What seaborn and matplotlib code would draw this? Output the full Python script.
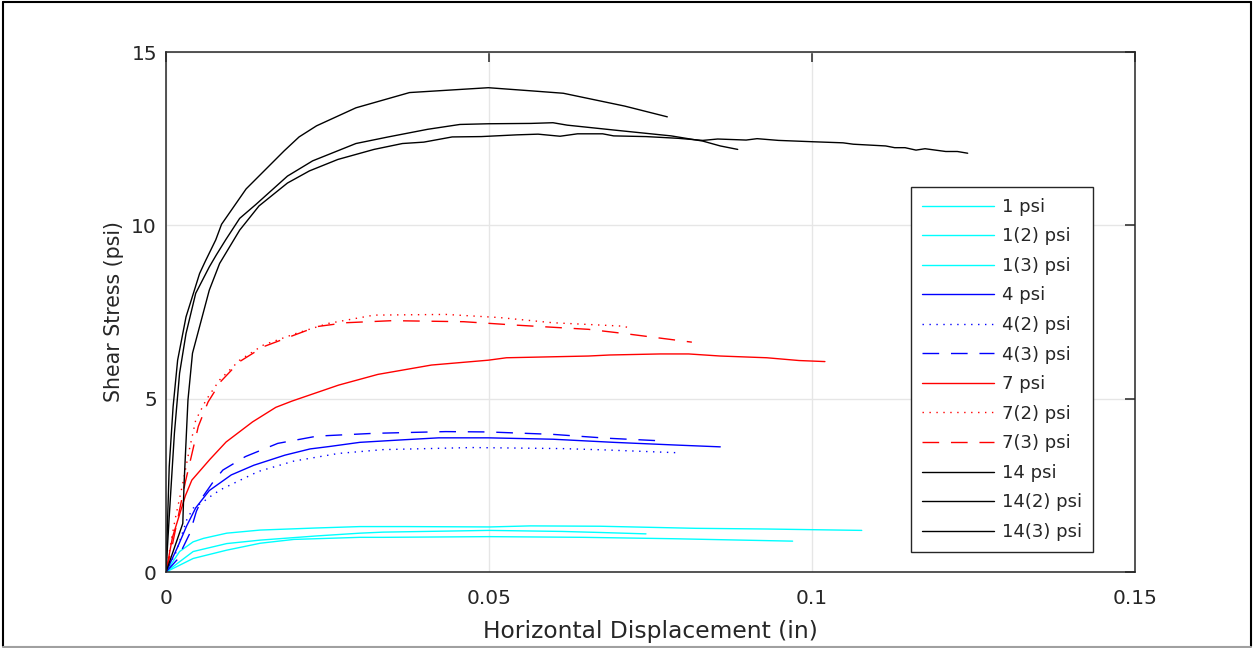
import matplotlib
matplotlib.use("Agg")
import matplotlib.pyplot as plt
from matplotlib.lines import Line2D
import numpy as np
import pandas as pd
import seaborn as sns

# ---------------- data ----------------
labels = ["1 psi", "1(2) psi", "1(3) psi", "4 psi", "4(2) psi", "4(3) psi",
          "7 psi", "7(2) psi", "7(3) psi", "14 psi", "14(2) psi", "14(3) psi"]

x_1 = [0, 0.0021, 0.0042, 0.0058, 0.0094, 0.0146, 0.0233, 0.03, 0.0371, 0.0502, 0.0564, 0.0672, 0.082, 0.093, 0.1077]
y_1 = [0, 0.59, 0.87, 0.97, 1.12, 1.21, 1.27, 1.31, 1.31, 1.3, 1.33, 1.32, 1.26, 1.24, 1.2]

x_1b = [0, 0.0042, 0.0094, 0.0146, 0.0233, 0.03, 0.0336, 0.05, 0.0613, 0.0672, 0.0743]
y_1b = [0, 0.59, 0.82, 0.92, 1.04, 1.12, 1.15, 1.2, 1.17, 1.14, 1.1]

x_1c = [0, 0.0042, 0.0094, 0.0146, 0.0198, 0.03, 0.0336, 0.05, 0.0647, 0.0785, 0.097]
y_1c = [0, 0.39, 0.63, 0.83, 0.94, 1.0, 1.0, 1.02, 1.0, 0.96, 0.89]

x_4 = [0, 0.0018, 0.0032, 0.0046, 0.0067, 0.0101, 0.0136, 0.0184, 0.0223, 0.0253, 0.03, 0.0364, 0.0422, 0.0499, 0.0599, 0.0693, 0.0792, 0.0858]
y_4 = [0, 0.72, 1.33, 1.85, 2.35, 2.8, 3.08, 3.37, 3.55, 3.62, 3.74, 3.81, 3.87, 3.87, 3.83, 3.74, 3.66, 3.61]

x_4b = [0, 0.0015, 0.0025, 0.0032, 0.0042, 0.0058, 0.0068, 0.0084, 0.0115, 0.0143, 0.0198, 0.0267, 0.0336, 0.0474, 0.0613, 0.0682, 0.0792]
y_4b = [0, 0.55, 1.1, 1.5, 1.84, 2.03, 2.17, 2.37, 2.65, 2.9, 3.2, 3.42, 3.53, 3.59, 3.56, 3.52, 3.44]

x_4c = [0, 0.0017, 0.0037, 0.0047, 0.0058, 0.0073, 0.0088, 0.0123, 0.0173, 0.0234, 0.0322, 0.0433, 0.0499, 0.0599, 0.0682, 0.0759]
y_4c = [0, 0.35, 1.12, 1.75, 2.2, 2.6, 2.94, 3.33, 3.71, 3.92, 4.0, 4.05, 4.04, 3.97, 3.86, 3.79]

x_7 = [0, 0.001, 0.002, 0.003, 0.004, 0.0068, 0.0093, 0.0134, 0.017, 0.0195, 0.0267, 0.0328, 0.0411, 0.0499, 0.0527, 0.0654, 0.0687, 0.0765, 0.0809, 0.0858, 0.093, 0.098, 0.102]
y_7 = [0, 1.0, 1.6, 2.2, 2.65, 3.25, 3.75, 4.33, 4.75, 4.93, 5.39, 5.7, 5.97, 6.11, 6.18, 6.23, 6.26, 6.29, 6.29, 6.23, 6.18, 6.1, 6.07]

x_7b = [0, 0.0008, 0.0015, 0.0026, 0.0036, 0.0046, 0.0062, 0.0083, 0.0114, 0.0151, 0.0201, 0.0251, 0.0322, 0.0433, 0.0516, 0.0599, 0.0709, 0.0718]
y_7b = [0, 0.9, 1.6, 2.56, 3.52, 4.38, 4.96, 5.54, 6.11, 6.55, 6.88, 7.17, 7.41, 7.43, 7.34, 7.19, 7.09, 7.03]

x_7c = [0, 0.001, 0.002, 0.003, 0.004, 0.005, 0.0065, 0.0085, 0.0114, 0.0151, 0.0201, 0.0234, 0.0278, 0.035, 0.0461, 0.0543, 0.0654, 0.0709, 0.0814]
y_7c = [0, 0.8, 1.7, 2.6, 3.4, 4.2, 4.9, 5.5, 6.07, 6.5, 6.85, 7.08, 7.19, 7.25, 7.22, 7.12, 7.0, 6.88, 6.63]

x_14 = [0, 0.0026, 0.0028, 0.0034, 0.0041, 0.0052, 0.0067, 0.0083, 0.0114, 0.0144, 0.0188, 0.0222, 0.0266, 0.0322, 0.0366, 0.0399, 0.0443, 0.0488, 0.0543, 0.0576, 0.061, 0.0637, 0.0676, 0.0693, 0.0743, 0.0793, 0.0831, 0.0854, 0.0898, 0.0915, 0.0948, 0.1003, 0.1048, 0.1064, 0.1114, 0.1128, 0.1144, 0.1161, 0.1175, 0.1207, 0.1225, 0.1241]
y_14 = [0, 1.4, 2.56, 4.96, 6.31, 7.08, 8.13, 8.9, 9.86, 10.56, 11.22, 11.57, 11.9, 12.19, 12.36, 12.4, 12.55, 12.56, 12.61, 12.63, 12.57, 12.64, 12.64, 12.58, 12.56, 12.51, 12.45, 12.49, 12.46, 12.5, 12.45, 12.41, 12.38, 12.34, 12.29, 12.24, 12.24, 12.17, 12.21, 12.13, 12.13, 12.08]

x_14b = [0, 0.0005, 0.0013, 0.0021, 0.0031, 0.0046, 0.0067, 0.0078, 0.0093, 0.0114, 0.0139, 0.0188, 0.0227, 0.0294, 0.0344, 0.0405, 0.0455, 0.0499, 0.0565, 0.0599, 0.0621, 0.0698, 0.0782, 0.0831, 0.0858, 0.0885]
y_14b = [0, 1.6, 4.0, 5.73, 6.88, 8.04, 8.8, 9.15, 9.6, 10.2, 10.6, 11.42, 11.86, 12.36, 12.55, 12.77, 12.91, 12.93, 12.94, 12.96, 12.89, 12.74, 12.58, 12.43, 12.29, 12.19]

x_14c = [0, 0.0005, 0.0011, 0.0018, 0.0031, 0.0052, 0.0061, 0.0077, 0.0086, 0.0124, 0.0183, 0.0206, 0.0233, 0.0294, 0.0377, 0.0499, 0.0565, 0.0615, 0.071, 0.0776]
y_14c = [0, 3.04, 4.77, 6.11, 7.36, 8.61, 8.97, 9.58, 10.03, 11.05, 12.15, 12.55, 12.87, 13.39, 13.83, 13.97, 13.88, 13.81, 13.44, 13.13]

xs = [x_1, x_1b, x_1c, x_4, x_4b, x_4c, x_7, x_7b, x_7c, x_14, x_14b, x_14c]
ys = [y_1, y_1b, y_1c, y_4, y_4b, y_4c, y_7, y_7b, y_7c, y_14, y_14b, y_14c]

colors = ["#00FFFF"] * 3 + ["#0000FF"] * 3 + ["#FF0000"] * 3 + ["#000000"] * 3
DOT = (0, (1, 4))
DASH = (0, (12, 8.5))
styles = ["-", "-", "-", "-", DOT, DASH, "-", DOT, DASH, "-", "-", "-"]

x_ticks = [0, 0.05, 0.1, 0.15]
x_ticklabels = ["0", "0.05", "0.1", "0.15"]
y_ticks = [0, 5, 10, 15]

# ---------------- figure ----------------
sns.set_style("white")
plt.rcParams["font.family"] = ["DejaVu Sans"]

fig = plt.figure(figsize=(12.54, 6.48), dpi=100)
ax = fig.add_axes([166 / 1254, 76 / 648, 969 / 1254, 520 / 648])

for xv, yv, c, ls, lab in zip(xs, ys, colors, styles, labels):
    df = pd.DataFrame({"x": xv, "y": yv})
    sns.lineplot(data=df, x="x", y="y", ax=ax, color=c, linestyle=ls,
                 linewidth=1.0, sort=False, estimator=None, label=lab)

ax.set_xlim(0, 0.15)
ax.set_ylim(0, 15)
ax.set_xticks(x_ticks)
ax.set_xticklabels(x_ticklabels)
ax.set_yticks(y_ticks)
ax.grid(True, color="#e6e6e6", linewidth=1.0)
ax.set_axisbelow(True)

for s in ax.spines.values():
    s.set_visible(True)
    s.set_color("#262626")
    s.set_linewidth(1.1)

ax.tick_params(axis="both", direction="in", length=7, width=1.1, colors="#262626",
               labelsize=14.5, top=True, right=True)
ax.tick_params(axis="x", pad=12)
ax.tick_params(axis="y", pad=6.5)

ax.set_xlabel("Horizontal Displacement (in)", fontsize=16.8, color="#262626", labelpad=9)
ax.set_ylabel("Shear Stress (psi)", fontsize=14.8, color="#262626", labelpad=5)

leg = ax.legend(loc="upper right", bbox_to_anchor=((1093 - 166) / 969, (572 - 187) / 520),
                borderaxespad=0, fontsize=13, frameon=True, fancybox=False,
                handlelength=4.0, handletextpad=0.45, labelspacing=0.64,
                borderpad=0.6)
leg.get_frame().set_edgecolor("#262626")
leg.get_frame().set_linewidth(1.0)
leg.get_frame().set_alpha(1.0)
for h in leg.get_lines():
    h.set_linewidth(1.0)

# outer frame of the figure
fig.add_artist(Line2D([3 / 1254, 3 / 1254], [2 / 648, 646 / 648], transform=fig.transFigure, color="black", lw=1.5))
fig.add_artist(Line2D([1251 / 1254, 1251 / 1254], [2 / 648, 646 / 648], transform=fig.transFigure, color="black", lw=1.5))
fig.add_artist(Line2D([3 / 1254, 1251 / 1254], [646 / 648, 646 / 648], transform=fig.transFigure, color="black", lw=1.5))
fig.add_artist(Line2D([3 / 1254, 1251 / 1254], [1.5 / 648, 1.5 / 648], transform=fig.transFigure, color="#a0a0a0", lw=1.5))

fig.savefig("out.png", dpi=100)
